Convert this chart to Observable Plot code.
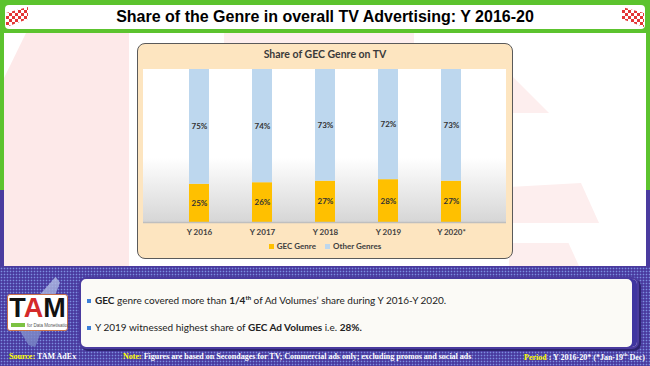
<!DOCTYPE html>
<html><head><meta charset="utf-8">
<script src="https://cdn.jsdelivr.net/npm/d3@7"></script>
<script src="https://cdn.jsdelivr.net/npm/@observablehq/plot@0.6"></script>
<style>
body{margin:0;width:650px;height:366px;overflow:hidden;font-family:Lato,"Liberation Sans",sans-serif;}
#slide{position:absolute;left:0;top:0;width:650px;height:366px;overflow:hidden;
 background:linear-gradient(#5cc32e 0,#5cc32e 190px,#4a3b9f 190px);}
.abs{position:absolute;}
#titlebar{left:5px;top:5px;width:640px;height:24px;background:#fff;border-radius:4px;
 font:bold 16px "Liberation Sans",Arial,sans-serif;text-align:center;line-height:24px;color:#000;}
#panel{left:4px;top:33px;width:642px;height:233px;background:#fff;overflow:hidden;}
#bottom{left:0;top:267px;width:650px;height:99px;background-color:#4a3b9f;
 background-image:radial-gradient(circle,#7b8fe0 0.7px,transparent 1.1px);background-size:3px 3px;}
#chartbox{left:137px;top:43px;width:374px;height:214px;background:#fde5c0;border:1.4px solid #5a5a5a;border-radius:8px;}
#ctitle{left:137px;top:48px;width:376px;text-align:center;font:bold 10.5px Lato,sans-serif;color:#3a3a3a;}
#plotbg{left:143px;top:69px;width:363px;height:153px;background:linear-gradient(#fff 0,#fff 58%,#d6d6d6 100%);}
#plot{left:137px;top:63px;}
#legend{left:137px;top:241px;width:376px;text-align:center;font:bold 8px Lato,sans-serif;color:#404040;}
.sw{display:inline-block;width:5px;height:5px;margin-right:3px;vertical-align:0px;}
#textbox{left:79px;top:277px;width:556px;height:68px;background:#fbfaf6;border:2px solid #4a3b9f;border-radius:7px;
 box-shadow:2px 2px 0 #2c2470, inset -5px 0 0 #3f35a0;}
.bul{position:absolute;left:14px;font:10px Lato,sans-serif;color:#222;}
.bul::before{content:"";position:absolute;left:-8px;top:5px;width:4px;height:4px;background:#3b7fd8;}
#logo{left:7px;top:294px;width:59px;height:35px;background:#fff;border:1.3px solid #c8704a;border-radius:3px;}
#foot{left:0;top:352px;width:650px;font:bold 8px "Liberation Serif","DejaVu Serif",serif;color:#fff;}
.y{color:#ffff00;}
</style></head>
<body>
<div id="slide">
 <div id="titlebar" class="abs">Share of the Genre in overall TV Advertising: Y 2016-20</div>
 <div id="panel" class="abs">
  <div class="abs" style="left:0;top:0;width:125px;height:233px;background:#fde9e9;clip-path:polygon(22px 0,125px 0,125px 233px,0 233px,0 45px);"></div>
  <div class="abs" style="left:220px;top:0;width:190px;height:14px;background:#fdeeee;"></div>
  <div class="abs" style="left:505px;top:40px;width:40px;height:40px;background:#fdeeee;clip-path:polygon(0 0,100% 100%,0 100%);"></div>
  <div class="abs" style="left:505px;top:150px;width:90px;height:40px;background:#fdeeee;clip-path:polygon(0 10%,80% 0,100% 100%,0 100%);"></div>
  <div class="abs" style="left:505px;top:210px;width:70px;height:23px;background:#fdeeee;clip-path:polygon(0 0,85% 0,100% 100%,0 100%);"></div>
 </div>
 <div class="abs" style="left:6px;top:7px;width:22px;height:20px;
  background:conic-gradient(#e02020 25%,transparent 0 50%,#e02020 0 75%,transparent 0);background-size:6px 6px;opacity:.9;clip-path:polygon(0 30%,100% 0,100% 60%,0 100%);"></div>
 <div class="abs" style="left:622px;top:7px;width:22px;height:20px;
  background:conic-gradient(#e02020 25%,transparent 0 50%,#e02020 0 75%,transparent 0);background-size:6px 6px;opacity:.9;clip-path:polygon(0 0,100% 30%,100% 100%,0 60%);"></div>
 <div id="chartbox" class="abs"></div>
 <div id="ctitle" class="abs">Share of GEC Genre on TV</div>
 <div id="plotbg" class="abs"></div>
 <div id="plot" class="abs"></div>
 <div id="legend" class="abs"></div>
 <div id="bottom" class="abs"></div>
 <div class="abs" style="left:15px;top:277px;width:45px;height:70px;background:linear-gradient(160deg,#c9d3f0,#8c98d0 60%,#6e7bbf);opacity:.8;clip-path:polygon(90% 0,100% 8%,45% 100%,30% 97%,0 65%);"></div>
 <div id="logo" class="abs">
  <div style="position:absolute;left:0;top:0px;width:59px;text-align:center;font:bold 27px 'Liberation Sans',Arial,sans-serif;color:#111;line-height:26px;">T<span style="color:#d42a2a">A</span>M</div>
  <div style="position:absolute;left:3px;top:28px;width:14px;height:4px;background:#7cc242;"></div>
  <div style="position:absolute;left:19px;top:27.5px;font:4.5px sans-serif;line-height:5px;color:#555;white-space:nowrap;">for Data Monetisation</div>
 </div>
 <div id="textbox" class="abs">
  <div class="bul" style="top:15px"><b>GEC</b> genre covered more than <b>1/4<sup style="font-size:6px">th</sup></b> of Ad Volumes’ share during Y 2016-Y 2020.</div>
  <div class="bul" style="top:42px">Y 2019 witnessed highest share of <b>GEC Ad Volumes</b> i.e. <b>28%.</b></div>
 </div>
 <div id="foot" class="abs">
  <span class="abs" style="left:9px;top:0"><span class="y">Source:</span> TAM AdEx</span>
  <span class="abs" style="left:123px;top:0"><span class="y">Note:</span> Figures are based on Secondages for TV; Commercial ads only; excluding promos and social ads</span>
  <span class="abs" style="right:5px;top:0"><span class="y">Period</span> : Y 2016-20* (*Jan-19<sup style="font-size:5px">th</sup> Dec)</span>
 </div>
</div>
<script>
const years = ["Y 2016","Y 2017","Y 2018","Y 2019","Y 2020*"];
const gecShare = [25,26,27,28,27];
const otherShare = [75,74,73,72,73];
const seriesNames = ["GEC Genre","Other Genres"];
const seriesColors = ["#ffc000","#bdd7ee"];

const rows = years.flatMap((y,i)=>[
  {year:y, series:seriesNames[0], value:gecShare[i]},
  {year:y, series:seriesNames[1], value:otherShare[i]}
]);

const chart = Plot.plot({
  width:376, height:180,
  marginLeft:6, marginRight:7, marginTop:6, marginBottom:21,
  style:{fontFamily:"Lato, sans-serif", background:"transparent", overflow:"visible"},
  x:{domain:years, padding:0.69, label:null, tickSize:0, tickPadding:7},
  y:{domain:[0,100], axis:null},
  color:{domain:seriesNames, range:seriesColors},
  marks:[
    Plot.barY(rows, {x:"year", y:"value", fill:"series", order:seriesNames}),
    Plot.text(rows, Plot.stackY({x:"year", y:"value", z:"series", order:seriesNames,
      text:d=>d.value+"%", fontSize:8, fontWeight:"bold", fill:"#333"})),
    Plot.ruleY([0], {stroke:"#bfbfbf", strokeWidth:1.5})
  ]
});
const xt = chart.querySelector("g[aria-label='x-axis tick label']");
if (xt){ xt.setAttribute("font-weight","bold"); xt.setAttribute("font-size","8"); xt.setAttribute("fill","#404040"); }
document.getElementById("plot").appendChild(chart);

const leg = document.getElementById("legend");
seriesNames.forEach((n,i)=>{
  const s = document.createElement("span");
  s.style.marginRight = i===0 ? "9px" : "0";
  s.innerHTML = `<span class="sw" style="background:${seriesColors[i]}"></span>${n}`;
  leg.appendChild(s);
});
</script>
</body></html>
